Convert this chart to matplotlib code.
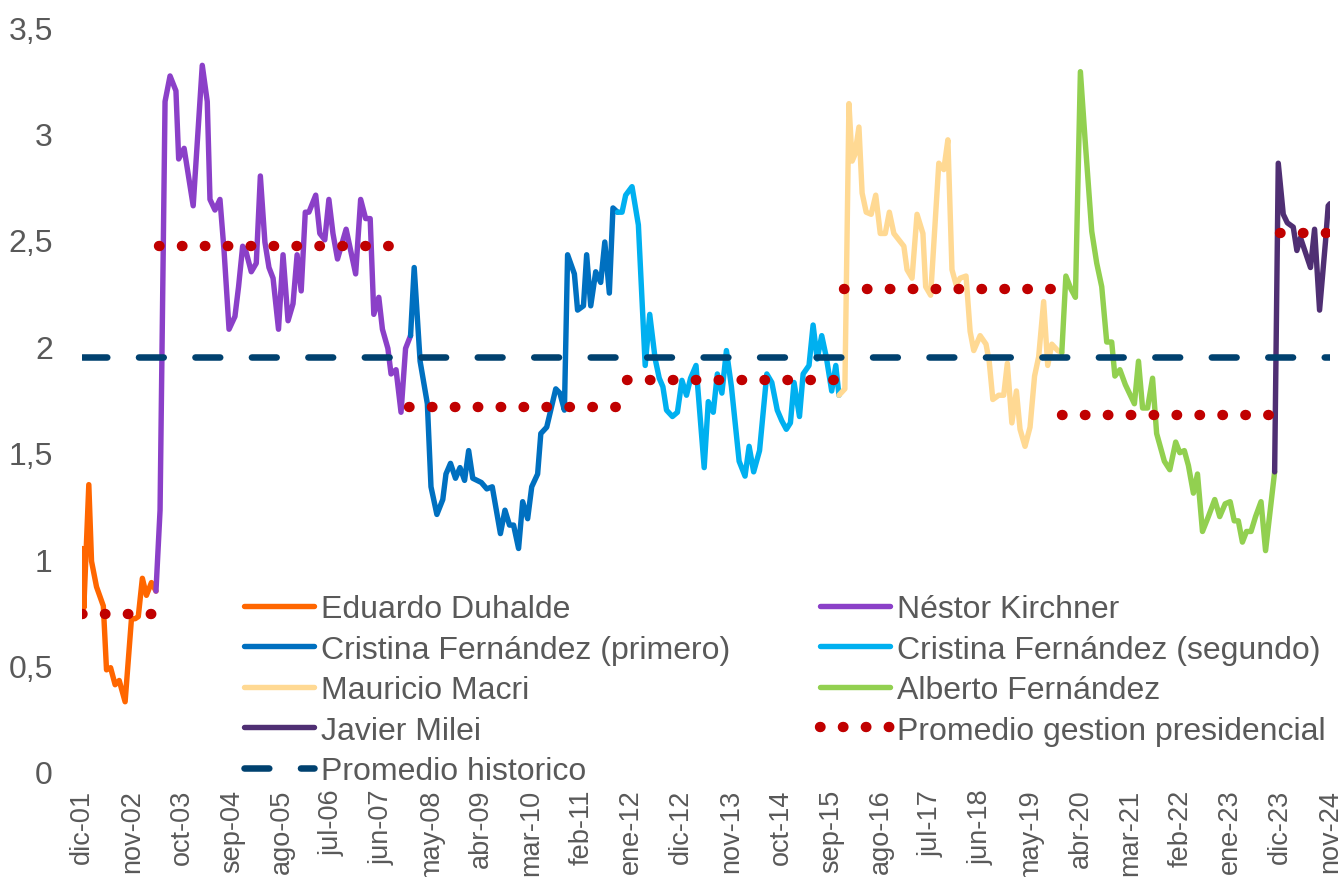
import matplotlib
matplotlib.use('Agg')
import matplotlib.pyplot as plt

plt.rcParams['font.family'] = ['Liberation Sans', 'DejaVu Sans']

# (month index from dic-01, ratio), one list per presidency
duhalde = [(0, 1.05), (0.4, 0.77), (1.5, 1.35), (2.1, 0.99), (3.2, 0.87), (4.7, 0.78),
           (5.4, 0.48), (6.3, 0.49), (7.3, 0.41), (8.2, 0.43), (9.5, 0.33), (10.9, 0.72),
           (11.7, 0.72), (12.4, 0.73), (13.3, 0.91), (14.2, 0.83), (15.3, 0.89), (16.3, 0.85)]

kirchner = [(16.3, 0.85), (17.2, 1.23), (18.3, 3.15), (19.4, 3.27), (20.7, 3.20), (21.3, 2.88),
            (22.5, 2.93), (24.5, 2.66), (26.5, 3.32), (27.6, 3.15), (28.2, 2.69), (29.3, 2.64),
            (30.4, 2.69), (31.3, 2.45), (32.4, 2.08), (33.7, 2.14), (34.5, 2.28), (35.4, 2.47),
            (36.2, 2.44), (37.3, 2.35), (38.4, 2.39), (39.3, 2.80), (40.3, 2.49), (41.2, 2.37),
            (42.1, 2.32), (43.3, 2.08), (44.3, 2.43), (45.4, 2.12), (46.5, 2.20), (47.4, 2.43),
            (48.3, 2.26), (49.2, 2.63), (50.0, 2.63), (51.5, 2.71), (52.4, 2.53), (53.5, 2.50),
            (54.4, 2.69), (55.3, 2.53), (56.3, 2.41), (58.2, 2.55), (60.3, 2.34), (61.4, 2.69),
            (62.5, 2.60), (63.5, 2.60), (64.3, 2.15), (65.4, 2.23), (66.2, 2.08), (67.4, 1.99),
            (68.1, 1.87), (69.2, 1.89), (70.3, 1.69), (71.3, 1.99), (72.4, 2.05)]

cfk_1 = [(72.4, 2.05), (73.2, 2.37), (74.5, 1.93), (76.1, 1.73), (76.9, 1.34), (78.2, 1.21),
         (79.5, 1.28), (80.2, 1.40), (81.2, 1.45), (82.3, 1.38), (83.3, 1.43), (84.3, 1.37),
         (85.2, 1.51), (86.1, 1.38), (88.0, 1.36), (89.2, 1.33), (90.4, 1.34), (92.2, 1.12),
         (93.2, 1.23), (94.2, 1.16), (95.1, 1.16), (96.2, 1.05), (97.1, 1.27), (98.2, 1.19),
         (99.1, 1.34), (100.4, 1.40), (101.1, 1.59), (102.4, 1.62), (104.4, 1.80), (105.3, 1.78),
         (106.3, 1.70), (107.0, 2.43), (108.5, 2.34), (109.2, 2.17), (110.5, 2.19), (111.2, 2.43),
         (112.1, 2.19), (113.2, 2.35), (114.3, 2.30), (115.2, 2.49), (116.2, 2.25), (117.0, 2.65),
         (118.0, 2.63)]

cfk_2 = [(118.0, 2.63), (119.0, 2.63), (119.8, 2.71), (121.2, 2.75), (122.6, 2.57), (124.1, 1.91),
         (125.1, 2.15), (126.3, 1.94), (127.2, 1.85), (128.0, 1.81), (128.8, 1.70), (130.1, 1.67),
         (131.2, 1.69), (132.2, 1.84), (133.2, 1.77), (134.1, 1.85), (135.3, 1.91), (137.1, 1.43),
         (138.0, 1.74), (139.1, 1.69), (140.0, 1.87), (141.0, 1.78), (142.0, 1.98), (143.1, 1.81),
         (144.8, 1.46), (146.1, 1.39), (147.0, 1.53), (148.0, 1.41), (149.3, 1.51), (150.9, 1.87),
         (152.0, 1.83), (153.2, 1.70), (154.2, 1.65), (155.2, 1.61), (156.1, 1.64), (156.9, 1.83),
         (158.1, 1.67), (158.9, 1.87), (160.2, 1.91), (161.1, 2.10), (162.0, 1.94), (163.0, 2.05),
         (164.0, 1.95), (165.2, 1.79), (166.1, 1.91), (166.8, 1.77)]

macri = [(166.8, 1.77), (168.1, 1.80), (169.0, 3.14), (169.7, 2.87), (170.3, 2.90), (171.2, 3.03),
         (171.9, 2.72), (172.8, 2.63), (173.9, 2.62), (174.9, 2.71), (175.9, 2.53), (177.0, 2.53),
         (177.9, 2.63), (178.9, 2.53), (180.0, 2.50), (181.1, 2.47), (181.8, 2.36), (182.9, 2.32),
         (184.0, 2.62), (185.3, 2.53), (185.9, 2.28), (187.0, 2.24), (188.8, 2.86), (189.9, 2.83),
         (190.8, 2.97), (191.7, 2.36), (192.6, 2.29), (193.5, 2.32), (194.8, 2.33), (195.7, 2.07),
         (196.5, 1.98), (197.9, 2.05), (199.2, 2.01), (199.9, 1.93), (200.7, 1.75), (202.0, 1.77),
         (203.1, 1.77), (203.9, 1.92), (204.9, 1.64), (205.9, 1.79), (206.7, 1.61), (207.8, 1.53),
         (208.9, 1.62), (209.9, 1.86), (210.8, 1.95), (211.9, 2.21), (212.8, 1.91), (213.7, 2.01),
         (215.0, 1.98), (215.9, 1.97)]

alberto = [(215.9, 1.97), (216.8, 2.33), (217.9, 2.27), (218.9, 2.23), (220.0, 3.29), (221.0, 2.98),
           (222.5, 2.54), (223.6, 2.39), (224.7, 2.28), (225.8, 2.02), (226.9, 2.02), (227.6, 1.86),
           (228.7, 1.89), (229.9, 1.82), (231.9, 1.73), (232.8, 1.93), (233.7, 1.71), (234.8, 1.71),
           (235.9, 1.85), (236.8, 1.59), (238.5, 1.46), (239.7, 1.42), (241.0, 1.55), (241.9, 1.50),
           (242.9, 1.51), (243.8, 1.44), (244.9, 1.31), (245.8, 1.40), (246.9, 1.13), (248.2, 1.20),
           (249.6, 1.28), (250.7, 1.20), (251.9, 1.26), (253.0, 1.27), (253.9, 1.18), (254.8, 1.18),
           (255.7, 1.08), (256.6, 1.13), (257.6, 1.13), (258.6, 1.20), (259.8, 1.27), (260.8, 1.04),
           (262.8, 1.41)]

milei = [(262.8, 1.41), (263.6, 2.86), (264.7, 2.62), (265.6, 2.58), (266.9, 2.56), (267.7, 2.45),
         (268.5, 2.51), (269.6, 2.44), (270.7, 2.37), (271.6, 2.55), (272.7, 2.17), (274.0, 2.49),
         (274.6, 2.66), (275.0, 2.67)]

# average per presidency (first month, last month, value) and overall average
avg_start = [0, 17, 72, 120, 168, 216, 264]
avg_end = [16, 71, 119, 167, 215, 263, 275]
avg_value = [0.74, 2.47, 1.715, 1.84, 2.27, 1.675, 2.53]
hist_avg = 1.95

x_labels = ['dic-01', 'nov-02', 'oct-03', 'sep-04', 'ago-05', 'jul-06', 'jun-07', 'may-08',
            'abr-09', 'mar-10', 'feb-11', 'ene-12', 'dic-12', 'nov-13', 'oct-14', 'sep-15',
            'ago-16', 'jul-17', 'jun-18', 'may-19', 'abr-20', 'mar-21', 'feb-22', 'ene-23',
            'dic-23', 'nov-24']
y_ticks = [0, 0.5, 1, 1.5, 2, 2.5, 3, 3.5]
y_labels = ['0', '0,5', '1', '1,5', '2', '2,5', '3', '3,5']

series = [
    ('Eduardo Duhalde', duhalde, '#FF6600'),
    ('Néstor Kirchner', kirchner, '#8B40C8'),
    ('Cristina Fernández (primero)', cfk_1, '#0070C0'),
    ('Cristina Fernández (segundo)', cfk_2, '#00B0F0'),
    ('Mauricio Macri', macri, '#FFD993'),
    ('Alberto Fernández', alberto, '#92D050'),
    ('Javier Milei', milei, '#4F2F73'),
]

gray = '#595959'
W, H = 1343, 878
fig = plt.figure(figsize=(W / 100, H / 100), dpi=100)
ax = fig.add_axes([82 / W, 1 - 773 / H, (1330 - 82) / W, (773 - 28) / H])

handles = {}
for name, pts, color in series:
    xs = [p[0] for p in pts]
    ys = [p[1] for p in pts]
    line, = ax.plot(xs, ys, color=color, lw=3.9, solid_joinstyle='round',
                    solid_capstyle='round', label=name)
    handles[name] = line

for i in range(len(avg_start)):
    line, = ax.plot([avg_start[i], avg_end[i]], [avg_value[i], avg_value[i]],
                    color='#C00000', lw=7.5, dashes=(0.05, 2.15), dash_capstyle='round',
                    label='Promedio gestion presidencial' if i == 0 else '_nolegend_')
    if i == 0:
        handles['Promedio gestion presidencial'] = line

line, = ax.plot([0, 275], [hist_avg, hist_avg], color='#00416F', lw=4.7,
                dashes=(3.8, 4.85), dash_capstyle='round', label='Promedio historico')
handles['Promedio historico'] = line

ax.set_xlim(0, 275)
ax.set_ylim(0, 3.5)
ax.set_xticks(range(0, 276, 11))
ax.set_xticklabels(x_labels, rotation=90)
ax.set_yticks(y_ticks)
ax.set_yticklabels(y_labels)
ax.tick_params(axis='both', length=0, labelcolor=gray)
ax.tick_params(axis='x', pad=12, labelsize=19.5)
ax.tick_params(axis='y', pad=21, labelsize=23)
for s in ax.spines.values():
    s.set_visible(False)

order = ['Eduardo Duhalde', 'Cristina Fernández (primero)', 'Mauricio Macri', 'Javier Milei',
         'Promedio historico', 'Néstor Kirchner', 'Cristina Fernández (segundo)',
         'Alberto Fernández', 'Promedio gestion presidencial']
ax.legend([handles[k] for k in order], order, ncol=2, loc='upper left',
          bbox_to_anchor=(244 / W, 1 - 595 / H), bbox_transform=fig.transFigure,
          frameon=False, fontsize=23, labelcolor=gray, handlelength=2.2,
          handletextpad=0.22, labelspacing=0.33, columnspacing=2.8,
          borderpad=0, borderaxespad=0)

fig.savefig('out.png', dpi=100)
